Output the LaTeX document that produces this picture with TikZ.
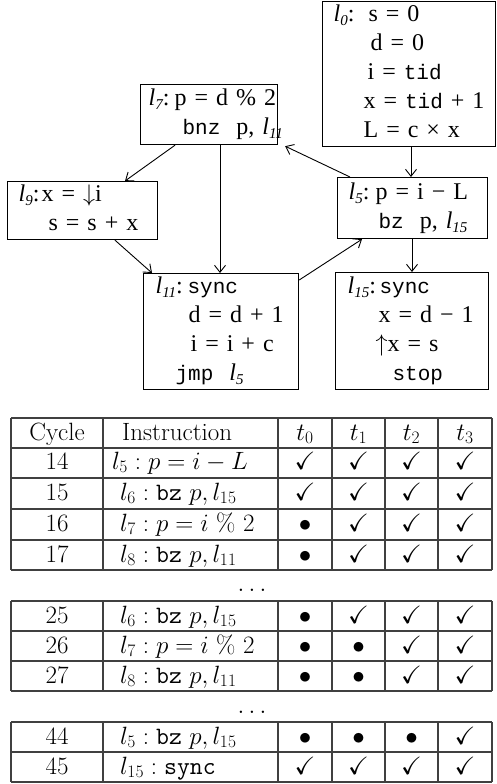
\documentclass[tikz,border=0pt]{standalone}
\usepackage{fix-cm}
\usepackage{amssymb}
\usepackage{fontspec}
\newfontfamily\tnr{Liberation Serif}
\newfontfamily\cour{Liberation Mono}
\usetikzlibrary{arrows.meta}
\newcommand\sbs[1]{\raisebox{-0.35ex}{\fontsize{15}{15}\selectfont\itshape #1}}
\newcommand\lab[1]{{\itshape l\sbs{#1}}:}
\newcommand\lbl[1]{{\itshape l\sbs{#1}}}
\newcommand\tc[1]{{\cour\fontsize{21}{29}\selectfont #1}}
\newcommand\ck{$\checkmark$}
\newcommand\bl{$\bullet$}
\newenvironment{lines}{\begin{tabular}{@{}l@{}}}{\end{tabular}}
\begin{document}
\begin{tikzpicture}[x=1pt,y=-1pt,
  blk/.style={draw, line width=1.2pt, anchor=north west, align=left, inner ysep=0pt,
              font=\tnr\fontsize{24}{29}\selectfont},
  arr/.style={line width=0.9pt, -{Straight Barb[length=7pt,width=11pt]}},
  cell/.style={anchor=base, inner sep=0pt, font=\fontsize{25}{30}\selectfont},
  celll/.style={cell, anchor=base west},
  grid/.style={line width=1.4pt, black!75}]
\useasboundingbox (0,0) rectangle (496,784);

% ---------- control-flow graph ----------
\node[blk, text width=151pt, inner xsep=11pt, minimum height=142pt] (l0) at (322,1)
  {\begin{lines}
   \makebox[35pt][l]{\lab{0}}s = 0\\
   \hspace*{37pt}d = 0\\
   \hspace*{34pt}i = \tc{tid}\\
   \hspace*{30pt}x = \tc{tid} + 1\\
   \hspace*{30pt}L = c × x
   \end{lines}};
\node[blk, text width=121pt, inner xsep=8pt, minimum height=60pt] (l7) at (140,84)
  {\begin{lines}
   \makebox[26pt][l]{\lab{7}}p = d \% 2\\
   \hspace*{34pt}\tc{bnz}\ \ p, \lbl{11}
   \end{lines}};
\node[blk, text width=128pt, inner xsep=11pt, minimum height=55pt] (l9) at (7,181)
  {\begin{lines}
   \makebox[23pt][l]{\lab{9}}x = $\downarrow$i\\
   \hspace*{30pt}s = s + x
   \end{lines}};
\node[blk, text width=128pt, inner xsep=11pt, minimum height=61pt] (l5) at (337,177)
  {\begin{lines}
   \makebox[27pt][l]{\lab{5}}p = i − L\\
   \hspace*{30pt}\tc{bz}\ \ p, \lbl{15}
   \end{lines}};
\node[blk, text width=131pt, inner xsep=12pt, minimum height=115pt] (l11) at (143,273)
  {\begin{lines}
   \makebox[32pt][l]{\lab{11}}\tc{sync}\\
   \hspace*{33pt}d = d + 1\\
   \hspace*{35pt}i = i + c\\
   \hspace*{20pt}\tc{jmp}\ \ \lbl{5}
   \end{lines}};
\node[blk, text width=129pt, inner xsep=12pt, minimum height=117pt] (l15) at (335,272)
  {\begin{lines}
   \makebox[32pt][l]{\lab{15}}\tc{sync}\\
   \hspace*{31pt}x = d − 1\\
   \hspace*{28pt}$\uparrow$x = s\\
   \hspace*{45pt}\tc{stop}
   \end{lines}};

\draw[arr] ([xshift=89pt]l0.south west) -- ([xshift=74pt]l5.north west);
\draw[arr] ([xshift=35pt]l7.south west) -- ([xshift=118pt]l9.north west);
\draw[arr] ([xshift=80pt]l7.south west) -- ([xshift=77pt]l11.north west);
\draw[arr] ([xshift=13pt]l5.north west) -- ([shift={(7pt,-1pt)}]l7.south east);
\draw[arr] ([xshift=108pt]l9.south west) -- ([xshift=9pt]l11.north west);
\draw[arr] ([yshift=-7pt]l11.north east) -- ([xshift=25pt]l5.south west);
\draw[arr] ([xshift=75pt]l5.south west) -- ([xshift=77pt]l15.north west);

% ---------- tables: grid ----------
\foreach \y in {418,448,478,509,540,570, 601,631,661,691, 722,752,782}
  \draw[grid] (11,\y) -- (492,\y);
\foreach \x in {11,103,278,332,385,438,492} {
  \draw[grid] (\x,418) -- (\x,570);
  \draw[grid] (\x,601) -- (\x,691);
  \draw[grid] (\x,722) -- (\x,782);
}

% header
\node[cell] (hcyc) at (57,440) {Cycle};
\node[celll] (hins) at (122,440) {Instruction};
\node[cell] (ht0) at (305,440) {$t_0$};
\node[cell] (ht1) at (358.5,440) {$t_1$};
\node[cell] (ht2) at (411.5,440) {$t_2$};
\node[cell] (ht3) at (465,440) {$t_3$};

% rows
\foreach \cyc/\y/\ix/\ins/\a/\b/\c/\d in {
  14/469/112/{$l_5 : p = i - L$}/\ck/\ck/\ck/\ck,
  15/500/120/{$l_6 : \texttt{bz}\ p, l_{15}$}/\ck/\ck/\ck/\ck,
  16/531/120/{$l_7 : p = i\ \%\ 2$}/\bl/\ck/\ck/\ck,
  17/562/120/{$l_8 : \texttt{bz}\ p, l_{11}$}/\bl/\ck/\ck/\ck,
  25/623/120/{$l_6 : \texttt{bz}\ p, l_{15}$}/\bl/\ck/\ck/\ck,
  26/653/120/{$l_7 : p = i\ \%\ 2$}/\bl/\bl/\ck/\ck,
  27/683/120/{$l_8 : \texttt{bz}\ p, l_{11}$}/\bl/\bl/\ck/\ck,
  44/744/120/{$l_5 : \texttt{bz}\ p, l_{15}$}/\bl/\bl/\bl/\ck,
  45/774/120/{$l_{15} : \texttt{sync}$}/\ck/\ck/\ck/\ck} {
  \node[cell] (c\cyc) at (57,\y) {\cyc};
  \node[celll] (i\cyc) at (\ix,\y) {\ins};
  \node[cell] (a\cyc) at (305,\y) {\a};
  \node[cell] (b\cyc) at (358.5,\y) {\b};
  \node[cell] (d\cyc) at (411.5,\y) {\c};
  \node[cell] (e\cyc) at (465,\y) {\d};
}

\node[cell] (dots1) at (252,591) {$\dots$};
\node[cell] (dots2) at (252,713) {$\dots$};
\end{tikzpicture}
\end{document}
